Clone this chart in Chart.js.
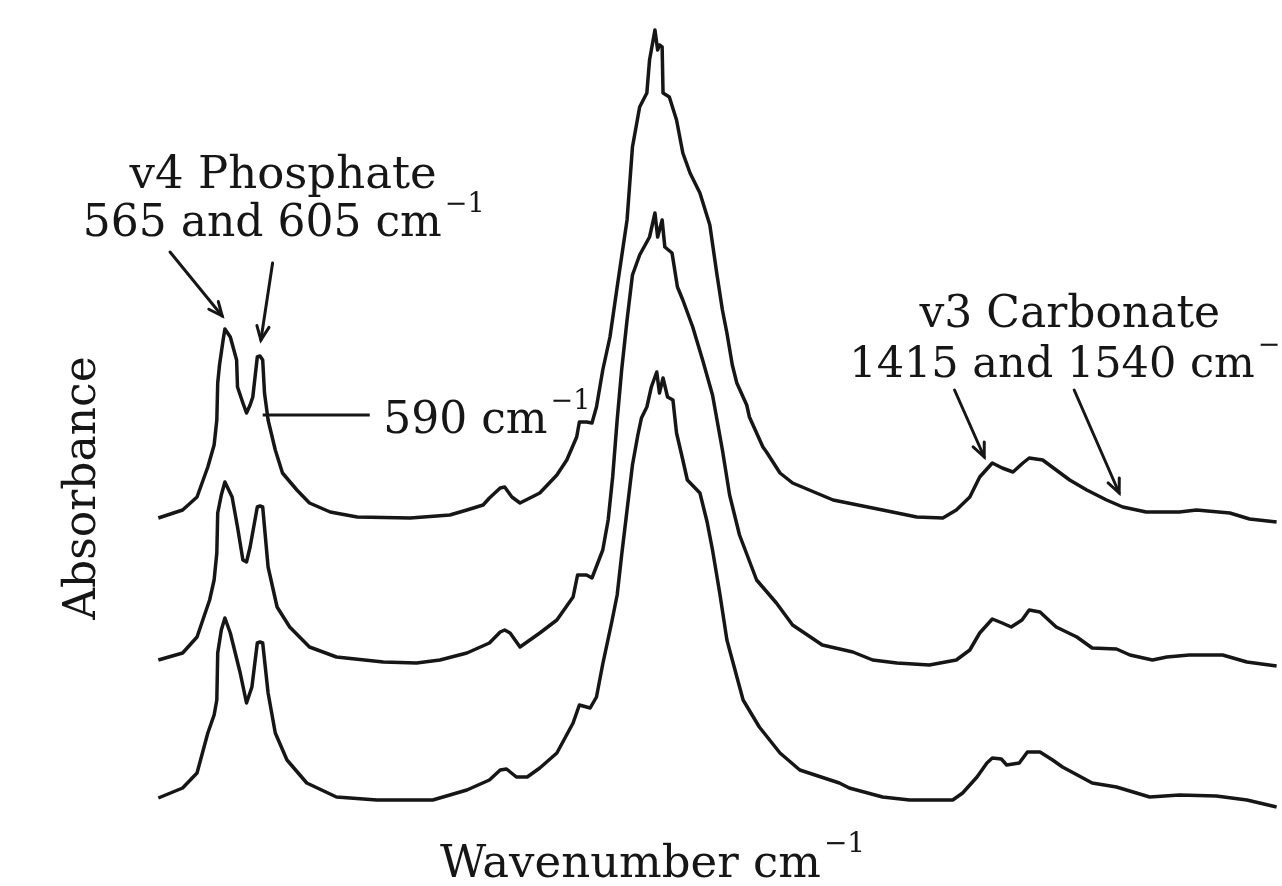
<!DOCTYPE html>
<html><head><meta charset="utf-8">
<script src="https://cdn.jsdelivr.net/npm/chart.js@4.4.0/dist/chart.umd.min.js"></script>
<style>html,body{margin:0;padding:0;background:#fff;overflow:hidden}</style>
</head><body>
<canvas id="c" width="1282" height="886"></canvas>
<script>
// Wavenumber (cm-1) and absorbance (a.u., traces offset)
const wn1=[491,518,534,546,553,556,557,559,563,565,571,578,579,585,589,593,596,601,604,607,609,613,621,629,645,659,682,712,771,815,834,852,859,871,876,884,893,915,934,945,956,959,967,973,978,985,993,1001,1012,1018,1026,1034,1037,1043,1046,1048,1051,1052,1059,1067,1074,1082,1093,1104,1112,1118,1123,1129,1134,1145,1148,1163,1167,1182,1196,1241,1296,1334,1363,1378,1393,1404,1418,1429,1441,1452,1459,1474,1489,1504,1523,1545,1563,1589,1626,1645,1682,1704,1734];
const ab1=[.368,.376,.389,.419,.441,.466,.503,.521,.546,.557,.549,.526,.499,.483,.473,.481,.489,.529,.530,.526,.493,.466,.436,.413,.396,.383,.374,.369,.368,.371,.376,.381,.388,.398,.399,.389,.383,.393,.411,.426,.449,.464,.464,.463,.479,.516,.549,.599,.666,.739,.779,.793,.826,.856,.836,.841,.839,.793,.789,.766,.733,.713,.693,.661,.611,.576,.553,.521,.503,.481,.469,.439,.434,.413,.403,.386,.376,.369,.368,.376,.389,.409,.423,.418,.414,.423,.428,.426,.416,.406,.396,.386,.379,.374,.374,.376,.373,.367,.364];

const wn2=[491,518,534,548,553,556,557,561,565,573,579,585,589,593,601,604,607,613,623,637,659,689,741,778,804,834,859,871,876,882,893,915,934,952,957,967,973,985,991,996,1001,1006,1012,1018,1026,1037,1043,1046,1051,1054,1062,1068,1074,1085,1096,1107,1118,1126,1137,1156,1178,1196,1229,1263,1285,1312,1348,1378,1393,1404,1418,1429,1439,1451,1459,1471,1489,1512,1529,1556,1571,1596,1612,1637,1674,1701,1734];
const ab2=[.226,.233,.249,.286,.306,.333,.373,.391,.404,.389,.359,.326,.324,.339,.379,.380,.379,.319,.279,.259,.239,.229,.224,.223,.226,.233,.243,.254,.256,.253,.239,.253,.266,.289,.311,.311,.308,.336,.366,.409,.466,.516,.566,.611,.631,.649,.673,.649,.666,.639,.633,.599,.586,.559,.526,.491,.436,.391,.351,.306,.283,.261,.241,.234,.226,.223,.221,.226,.236,.253,.267,.263,.259,.266,.276,.274,.259,.249,.238,.237,.231,.226,.229,.231,.231,.224,.220];

const wn3=[491,518,534,546,553,556,557,561,565,571,582,589,595,601,604,607,613,621,634,656,689,734,796,834,859,871,878,889,901,915,934,952,959,971,978,985,995,1001,1006,1012,1018,1024,1028,1034,1039,1045,1048,1052,1057,1063,1067,1074,1079,1093,1101,1107,1115,1123,1129,1141,1159,1182,1204,1248,1259,1296,1326,1374,1385,1401,1412,1418,1428,1434,1448,1457,1471,1485,1496,1529,1556,1593,1626,1667,1701,1734];
const ab3=[.088,.098,.113,.153,.171,.186,.233,.256,.268,.253,.213,.183,.199,.243,.244,.243,.193,.153,.126,.103,.089,.086,.086,.096,.106,.116,.117,.109,.109,.118,.133,.163,.181,.178,.189,.222,.264,.291,.331,.376,.421,.451,.468,.479,.499,.514,.493,.508,.489,.486,.453,.426,.406,.393,.364,.336,.293,.246,.226,.186,.159,.133,.116,.103,.098,.089,.086,.086,.093,.109,.123,.128,.127,.121,.123,.134,.134,.126,.119,.103,.099,.089,.091,.090,.086,.079];

// Text labels (anchored in data units)
const labelTexts=["v4 Phosphate","565 and 605 cm","590 cm","v3 Carbonate","1415 and 1540 cm"];
const labelSups=["","\u22121","\u22121","","\u22121"];
const labelX=[459,407,741,1337,1259];
const labelY=[.698,.650,.453,.559,.509];
const labelSize=[45,44,44,44,43];
const arrowFrom=[[504,.634],[618,.623],[1376,.496],[1509,.496]];
const arrowTo=[[562,.570],[605,.546],[1409,.429],[1559,.393]];
const leaderFrom=[607,.471], leaderTo=[726,.471];
const xTitle="Wavenumber cm", xTitleSup="\u22121", yTitle="Absorbance";

const FONT='"DejaVu Serif", serif';
const INK='#161616';

function pts(w,a){return w.map((x,i)=>({x:x,y:a[i]}));}
function ds(w,a){return {data:pts(w,a),borderColor:INK,borderWidth:3.5,pointRadius:0,tension:0,fill:false,clip:false,borderJoinStyle:'round'};}

const notes={id:'notes',afterDraw(chart){
  const ctx=chart.ctx, X=v=>chart.scales.x.getPixelForValue(v), Y=v=>chart.scales.y.getPixelForValue(v);
  ctx.save();
  ctx.fillStyle=INK; ctx.strokeStyle=INK; ctx.textBaseline='alphabetic'; ctx.textAlign='left';
  function rich(x,y,main,sup,size){
    ctx.font=size+'px '+FONT; ctx.fillText(main,x,y);
    if(sup){const w=ctx.measureText(main).width; ctx.font=Math.round(size*0.62)+'px '+FONT; ctx.fillText(sup,x+w+3,y-size*0.55);}
  }
  for(let i=0;i<labelTexts.length;i++) rich(X(labelX[i]),Y(labelY[i]),labelTexts[i],labelSups[i],labelSize[i]);
  ctx.lineWidth=3; ctx.lineCap='round';
  for(let i=0;i<arrowFrom.length;i++){
    const x1=X(arrowFrom[i][0]),y1=Y(arrowFrom[i][1]),x2=X(arrowTo[i][0]),y2=Y(arrowTo[i][1]);
    ctx.beginPath();ctx.moveTo(x1,y1);ctx.lineTo(x2,y2);ctx.stroke();
    const ang=Math.atan2(y2-y1,x2-x1),L=15,sp=0.42;
    ctx.beginPath();
    ctx.moveTo(x2-L*Math.cos(ang-sp),y2-L*Math.sin(ang-sp));ctx.lineTo(x2,y2);
    ctx.lineTo(x2-L*Math.cos(ang+sp),y2-L*Math.sin(ang+sp));ctx.stroke();
  }
  ctx.lineCap='butt';
  ctx.beginPath();ctx.moveTo(X(leaderFrom[0]),Y(leaderFrom[1]));ctx.lineTo(X(leaderTo[0]),Y(leaderTo[1]));ctx.stroke();
  // axis titles
  rich(X(804),Y(.009),xTitle,xTitleSup,45);
  ctx.save();ctx.translate(X(421),Y(.398));ctx.rotate(-Math.PI/2);ctx.textAlign='center';
  ctx.font='44px '+FONT;ctx.fillText(yTitle,0,0);ctx.restore();
  ctx.restore();
}};

new Chart(document.getElementById('c'),{
  type:'line',
  data:{datasets:[ds(wn1,ab1),ds(wn2,ab2),ds(wn3,ab3)]},
  options:{responsive:false,animation:false,devicePixelRatio:1,
    layout:{padding:0},
    plugins:{legend:{display:false},tooltip:{enabled:false}},
    scales:{x:{type:'linear',display:false,min:315,max:1740},y:{type:'linear',display:false,min:0,max:0.886}}},
  plugins:[notes]
});
</script>
</body></html>
